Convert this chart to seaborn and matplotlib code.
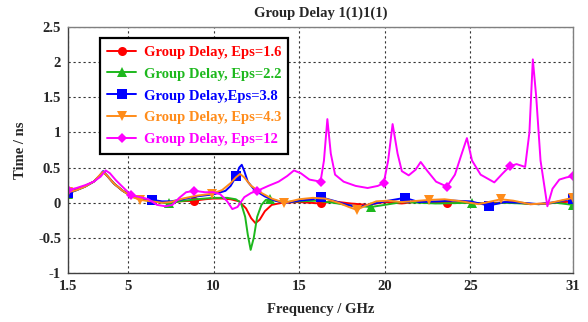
import matplotlib
matplotlib.use('Agg')
import matplotlib.pyplot as plt
import seaborn as sns
import numpy as np

# 数据
f_red = [1.5, 2.0, 2.5, 3.0, 3.3, 3.55, 3.8, 4.2, 4.7, 5.2, 5.7, 6.4, 7.0, 7.5, 8.0, 8.875, 9.5, 10.0, 10.5,
         11.0, 11.5, 11.9, 12.2, 12.45, 12.7, 13.0, 13.4, 14.0, 15.0, 16.25, 17.0, 18.0, 19.0, 20.0, 21.0,
         22.0, 23.625, 24.5, 25.5, 26.5, 27.5, 28.5, 29.5, 31.0]
v_red = [0.15, 0.19, 0.24, 0.30, 0.37, 0.44, 0.38, 0.27, 0.17, 0.10, 0.06, 0.03, 0.01, 0.0, 0.02, 0.03, 0.05, 0.06, 0.06,
         0.05, 0.02, -0.08, -0.22, -0.29, -0.24, -0.12, -0.03, 0.0, 0.01, -0.01, 0.02, -0.01, -0.03, 0.01, -0.01,
         0.02, 0.0, 0.01, -0.01, 0.0, 0.01, -0.02, -0.01, 0.02]
m_red = [1.5, 8.875, 16.25, 23.625, 31.0]

f_green = [1.5, 2.0, 2.5, 3.0, 3.3, 3.55, 3.8, 4.2, 4.7, 5.2, 5.7, 6.4, 7.4, 8.0, 9.0, 10.0, 10.8, 11.3, 11.6,
           11.85, 12.0, 12.17, 12.35, 12.55, 12.8, 13.05, 13.3, 14.0, 15.0, 16.0, 17.0, 18.0, 19.2, 20.0, 21.0,
           22.0, 23.0, 25.1, 26.0, 27.0, 28.0, 29.0, 30.0, 31.0]
v_green = [0.13, 0.18, 0.23, 0.30, 0.37, 0.44, 0.38, 0.27, 0.17, 0.09, 0.05, 0.02, -0.01, 0.02, 0.05, 0.07, 0.07, 0.05, 0.0,
           -0.2, -0.45, -0.67, -0.5, -0.2, -0.03, 0.04, 0.05, 0.01, 0.02, 0.03, 0.0, -0.04, -0.06, -0.03, 0.01,
           0.0, -0.01, 0.0, -0.02, 0.0, -0.01, -0.02, 0.0, -0.03]
m_green = [1.5, 7.4, 13.3, 19.2, 25.1, 31.0]

f_blue = [1.5, 2.0, 2.5, 3.0, 3.3, 3.55, 3.8, 4.2, 4.7, 5.2, 5.7, 6.42, 7.0, 7.5, 8.0, 9.0, 10.0, 10.7, 11.0,
          11.33, 11.5, 11.65, 11.8, 12.0, 12.4, 13.0, 13.6, 14.2, 15.0, 15.8, 16.25, 17.0, 17.8, 18.5, 19.2,
          20.0, 21.17, 22.0, 23.0, 24.0, 25.0, 26.08, 27.0, 28.0, 29.0, 30.0, 31.0]
v_blue = [0.14, 0.18, 0.23, 0.30, 0.37, 0.45, 0.38, 0.27, 0.17, 0.10, 0.07, 0.04, 0.02, 0.02, 0.04, 0.09, 0.12, 0.17, 0.24,
          0.38, 0.50, 0.54, 0.45, 0.30, 0.18, 0.09, 0.03, 0.0, 0.03, 0.05, 0.08, 0.03, -0.03, -0.06, -0.02,
          0.02, 0.07, 0.01, 0.02, 0.03, 0.02, -0.04, 0.01, 0.0, -0.02, 0.01, 0.06]
m_blue = [1.5, 6.42, 11.33, 16.25, 21.17, 26.08, 31.0]

f_orange = [1.5, 2.0, 2.5, 3.0, 3.3, 3.55, 3.8, 4.2, 4.7, 5.2, 5.71, 6.4, 7.0, 7.5, 8.2, 9.0, 9.93, 10.5, 11.0,
            11.3, 11.55, 11.8, 12.2, 12.8, 13.4, 14.14, 15.0, 15.8, 16.5, 17.3, 17.9, 18.36, 18.9, 19.5, 20.2,
            21.0, 22.57, 23.5, 24.5, 25.5, 26.79, 27.5, 28.5, 29.5, 31.0]
v_orange = [0.15, 0.18, 0.23, 0.30, 0.38, 0.44, 0.38, 0.27, 0.17, 0.09, 0.04, 0.02, 0.0, 0.01, 0.06, 0.10, 0.13, 0.18, 0.28,
            0.36, 0.41, 0.36, 0.24, 0.14, 0.06, 0.0, 0.05, 0.07, 0.06, 0.0, -0.06, -0.10, -0.04, 0.02, 0.03,
            0.01, 0.04, 0.05, 0.02, -0.02, 0.05, 0.03, -0.02, -0.01, 0.07]
m_orange = [1.5, 5.71, 9.93, 14.14, 18.36, 22.57, 26.79, 31.0]

f_mag = [1.5, 2.0, 2.5, 3.0, 3.4, 3.7, 3.95, 4.3, 4.8, 5.19, 5.7, 6.2, 6.7, 7.2, 7.6, 8.0, 8.4, 8.88, 9.5, 10.0,
         10.4, 10.8, 11.1, 11.4, 11.8, 12.2, 12.56, 13.2, 13.8, 14.3, 14.7, 15.1, 15.6, 16.25, 16.45, 16.65,
         16.85, 17.1, 17.6, 18.3, 19.0, 19.6, 19.94, 20.2, 20.46, 20.75, 21.0, 21.4, 21.8, 22.1, 22.5, 23.0,
         23.63, 24.1, 24.5, 24.8, 25.1, 25.6, 26.4, 26.9, 27.31, 27.7, 28.2, 28.45, 28.65, 28.85, 29.1, 29.5,
         29.8, 30.2, 30.6, 31.0]
v_mag = [0.18, 0.21, 0.25, 0.30, 0.37, 0.46, 0.42, 0.32, 0.20, 0.11, 0.08, 0.05, -0.03, -0.05, -0.03, 0.07, 0.15, 0.17, 0.15, 0.15,
         0.12, 0.02, -0.09, -0.06, 0.08, 0.14, 0.17, 0.24, 0.30, 0.38, 0.46, 0.42, 0.33, 0.30, 0.60, 1.19,
         0.70, 0.40, 0.30, 0.24, 0.21, 0.24, 0.28, 0.60, 1.12, 0.70, 0.45, 0.39, 0.47, 0.58, 0.45, 0.30,
         0.23, 0.40, 0.70, 0.92, 0.60, 0.40, 0.29, 0.42, 0.52, 0.55, 0.51, 1.00, 2.04, 1.50, 0.60, -0.05,
         0.20, 0.33, 0.36, 0.38]
m_mag = [1.5, 5.19, 8.88, 12.56, 16.25, 19.94, 23.63, 27.31, 31.0]

series = [
    ('Group Delay, Eps=1.6', f_red, v_red, m_red, '#FF0000', 'o'),
    ('Group Delay, Eps=2.2', f_green, v_green, m_green, '#1DB81D', '^'),
    ('Group Delay,Eps=3.8', f_blue, v_blue, m_blue, '#0000FF', 's'),
    ('Group Delay, Eps=4.3', f_orange, v_orange, m_orange, '#FF8C1A', 'v'),
    ('Group Delay, Eps=12', f_mag, v_mag, m_mag, '#FF00FF', 'D'),
]

x_ticks = [1.5, 5, 10, 15, 20, 25, 31]
x_labels = ['1.5', '5', '10', '15', '20', '25', '31']
y_ticks = [-1, -0.5, 0, 0.5, 1, 1.5, 2, 2.5]
y_labels = ['-1', '-0.5', '0', '0.5', '1', '1.5', '2', '2.5']

sns.set_style('white')
plt.rcParams['font.family'] = ['Liberation Serif', 'DejaVu Serif']
plt.rcParams['font.weight'] = 'bold'

fig = plt.figure(figsize=(5.88, 3.22), dpi=100)
ax = fig.add_axes([0.1156, 0.152, 0.859, 0.764])

for label, fx, vy, marks, color, mk in series:
    idx = [fx.index(m) for m in marks]
    ms = 5.5 if mk == 'D' else 6.5
    sns.lineplot(x=fx, y=vy, ax=ax, color=color, linewidth=1.4, marker=mk, markersize=ms,
                 markeredgewidth=0, markevery=idx, label=label, estimator=None, sort=False)

ax.set_xlim(1.5, 31)
ax.set_ylim(-1, 2.5)
ax.set_xticks(x_ticks)
ax.set_xticklabels(x_labels, fontsize=10.5, fontweight='bold')
ax.set_yticks(y_ticks)
ax.set_yticklabels(y_labels, fontsize=10.5, fontweight='bold')
ax.tick_params(length=0, pad=5)
ax.grid(True, color='#333333', linestyle=(0, (2, 2.5)), linewidth=0.8)

for s in ['left', 'bottom']:
    ax.spines[s].set_color('#404040')
    ax.spines[s].set_linewidth(1.0)
for s in ['top', 'right']:
    ax.spines[s].set_color('#808080')
    ax.spines[s].set_linewidth(1.0)

ax.set_title('Group Delay 1(1)1(1)', fontsize=10.5, fontweight='bold', pad=7)
ax.set_xlabel('Frequency / GHz', fontsize=10.5, fontweight='bold', labelpad=7)
ax.set_ylabel('Time / ns', fontsize=10.5, fontweight='bold', labelpad=8)

leg = ax.legend(loc='upper left', bbox_to_anchor=(0.063, 0.955), borderaxespad=0,
                prop={'family': 'Liberation Serif', 'weight': 'bold', 'size': 10.5},
                labelcolor='linecolor', fancybox=False, framealpha=1, edgecolor='black',
                handlelength=2.0, handletextpad=0.5, labelspacing=0.6, borderpad=0.5)
leg.get_frame().set_linewidth(1.6)

fig.savefig('out.png', dpi=100)
